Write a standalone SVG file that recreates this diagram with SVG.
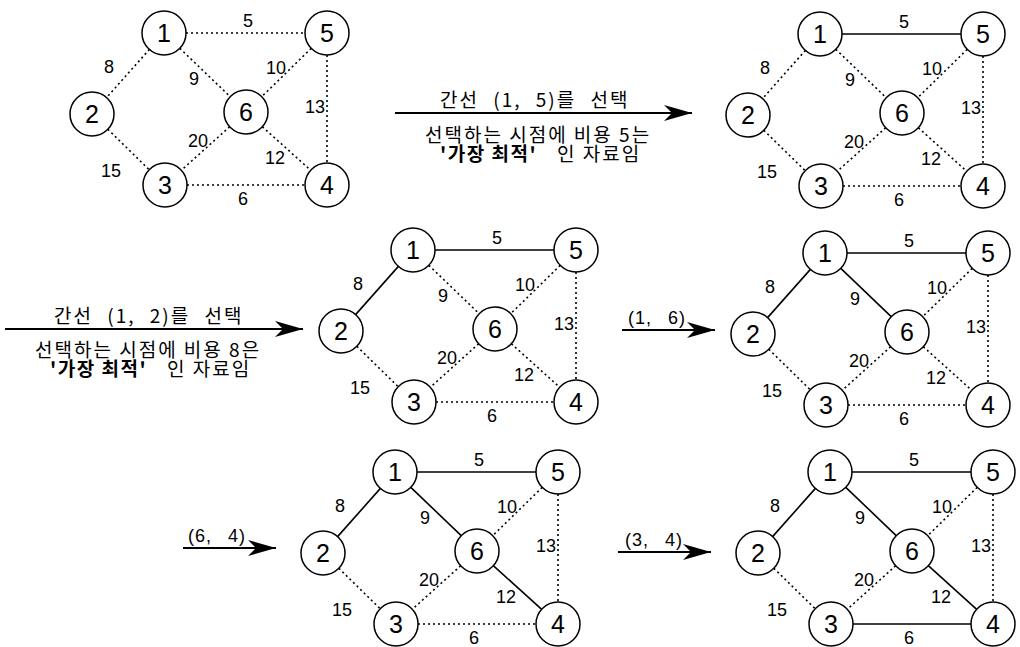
<svg xmlns="http://www.w3.org/2000/svg" width="1020" height="647" viewBox="0 0 1020 647">
<style>
.bg{fill:#fff}
.nc{fill:#fff;stroke:#000;stroke-width:1.5}
.nt{font-family:"Liberation Sans",Arial,sans-serif;font-size:25px;text-anchor:middle;fill:#000}
.el{font-family:"Liberation Sans",Arial,sans-serif;font-size:18px;text-anchor:middle;fill:#000}
.d{stroke:#000;stroke-width:1.6;stroke-dasharray:2 3;fill:none}
.s{stroke:#000;stroke-width:1.6;fill:none}
.ar{stroke:#000;stroke-width:1.8;fill:none}
.kt{font-family:"Noto Sans CJK KR",sans-serif;font-size:19px;fill:#000;letter-spacing:2px}
.k1{word-spacing:8px}
.kb{font-weight:bold;letter-spacing:1.5px}
.pt{font-family:"Liberation Sans",Arial,sans-serif;font-size:18px;fill:#000;word-spacing:10px;letter-spacing:1px}
</style>
<defs>
<marker id="ah" markerUnits="userSpaceOnUse" markerWidth="30" markerHeight="18" refX="28" refY="9" orient="auto">
<path d="M28,9 L0,1 L8,9 L0,17 Z" fill="#000"/>
</marker>
<g id="labels">
<text class="el" x="84" y="-6">5</text>
<text class="el" x="-55" y="40">8</text>
<text class="el" x="30" y="52">9</text>
<text class="el" x="112" y="41">10</text>
<text class="el" x="151" y="80">13</text>
<text class="el" x="34" y="114">20</text>
<text class="el" x="111" y="131">12</text>
<text class="el" x="-53" y="144">15</text>
<text class="el" x="79" y="172">6</text>
</g>
</defs>
<rect class="bg" width="1020" height="647"/>

<!-- Arrows with text -->
<g id="arrows">
<line class="ar" x1="395" y1="113" x2="692" y2="113" marker-end="url(#ah)"/>
<text class="kt k1" x="440" y="107">간선 (1, 5)를 선택</text>
<text class="kt" x="425" y="142">선택하는 시점에 비용 5는</text>
<text class="kt" x="440" y="161"><tspan class="kb">'가장 최적'</tspan><tspan x="557">인 자료임</tspan></text>

<line class="ar" x1="5" y1="329" x2="303" y2="329" marker-end="url(#ah)"/>
<text class="kt k1" x="54" y="323">간선 (1, 2)를 선택</text>
<text class="kt" x="35" y="357">선택하는 시점에 비용 8은</text>
<text class="kt" x="50" y="376"><tspan class="kb">'가장 최적'</tspan><tspan x="167">인 자료임</tspan></text>

<line class="ar" x1="622" y1="330" x2="715" y2="330" marker-end="url(#ah)"/>
<text class="pt" x="628" y="324">(1, 6)</text>
<line class="ar" x1="183" y1="548" x2="276" y2="548" marker-end="url(#ah)"/>
<text class="pt" x="188" y="542">(6, 4)</text>
<line class="ar" x1="618" y1="552" x2="711" y2="552" marker-end="url(#ah)"/>
<text class="pt" x="625" y="546">(3, 4)</text>
</g>

<!-- Graph 1 -->
<g id="graph1" transform="translate(164,33)">
<g id="g1-edges">
<line class="d" x1="22" y1="0" x2="141" y2="0"/>
<line class="d" x1="-14.6" y1="16.4" x2="-57.4" y2="64.6"/>
<line class="d" x1="15.8" y1="15.3" x2="66.2" y2="63.7"/>
<line class="d" x1="147.2" y1="15.4" x2="97.8" y2="63.6"/>
<line class="d" x1="163" y1="22" x2="163" y2="130"/>
<line class="d" x1="65.7" y1="93.7" x2="17.3" y2="137.3"/>
<line class="d" x1="98.3" y1="93.7" x2="146.7" y2="137.3"/>
<line class="d" x1="-56.2" y1="96.3" x2="-14.8" y2="136.7"/>
<line class="d" x1="23" y1="152" x2="141" y2="152"/>
</g>
<use href="#labels"/>
<g id="g1-n1"><circle class="nc" cx="0" cy="0" r="22"/><text class="nt" x="0" y="9">1</text></g>
<g id="g1-n2"><circle class="nc" cx="-72" cy="81" r="22"/><text class="nt" x="-72" y="90">2</text></g>
<g id="g1-n3"><circle class="nc" cx="1" cy="152" r="22"/><text class="nt" x="1" y="161">3</text></g>
<g id="g1-n4"><circle class="nc" cx="163" cy="152" r="22"/><text class="nt" x="163" y="161">4</text></g>
<g id="g1-n5"><circle class="nc" cx="163" cy="0" r="22"/><text class="nt" x="163" y="9">5</text></g>
<g id="g1-n6"><circle class="nc" cx="82" cy="79" r="22"/><text class="nt" x="82" y="88">6</text></g>
</g>

<!-- Graph 2 -->
<g id="graph2" transform="translate(820,34)">
<g id="g2-edges">
<line class="s" x1="22" y1="0" x2="141" y2="0"/>
<line class="d" x1="-14.6" y1="16.4" x2="-57.4" y2="64.6"/>
<line class="d" x1="15.8" y1="15.3" x2="66.2" y2="63.7"/>
<line class="d" x1="147.2" y1="15.4" x2="97.8" y2="63.6"/>
<line class="d" x1="163" y1="22" x2="163" y2="130"/>
<line class="d" x1="65.7" y1="93.7" x2="17.3" y2="137.3"/>
<line class="d" x1="98.3" y1="93.7" x2="146.7" y2="137.3"/>
<line class="d" x1="-56.2" y1="96.3" x2="-14.8" y2="136.7"/>
<line class="d" x1="23" y1="152" x2="141" y2="152"/>
</g>
<use href="#labels"/>
<g id="g2-n1"><circle class="nc" cx="0" cy="0" r="22"/><text class="nt" x="0" y="9">1</text></g>
<g id="g2-n2"><circle class="nc" cx="-72" cy="81" r="22"/><text class="nt" x="-72" y="90">2</text></g>
<g id="g2-n3"><circle class="nc" cx="1" cy="152" r="22"/><text class="nt" x="1" y="161">3</text></g>
<g id="g2-n4"><circle class="nc" cx="163" cy="152" r="22"/><text class="nt" x="163" y="161">4</text></g>
<g id="g2-n5"><circle class="nc" cx="163" cy="0" r="22"/><text class="nt" x="163" y="9">5</text></g>
<g id="g2-n6"><circle class="nc" cx="82" cy="79" r="22"/><text class="nt" x="82" y="88">6</text></g>
</g>

<!-- Graph 3 -->
<g id="graph3" transform="translate(413,250)">
<g id="g3-edges">
<line class="s" x1="22" y1="0" x2="141" y2="0"/>
<line class="s" x1="-14.6" y1="16.4" x2="-57.4" y2="64.6"/>
<line class="d" x1="15.8" y1="15.3" x2="66.2" y2="63.7"/>
<line class="d" x1="147.2" y1="15.4" x2="97.8" y2="63.6"/>
<line class="d" x1="163" y1="22" x2="163" y2="130"/>
<line class="d" x1="65.7" y1="93.7" x2="17.3" y2="137.3"/>
<line class="d" x1="98.3" y1="93.7" x2="146.7" y2="137.3"/>
<line class="d" x1="-56.2" y1="96.3" x2="-14.8" y2="136.7"/>
<line class="d" x1="23" y1="152" x2="141" y2="152"/>
</g>
<use href="#labels"/>
<g id="g3-n1"><circle class="nc" cx="0" cy="0" r="22"/><text class="nt" x="0" y="9">1</text></g>
<g id="g3-n2"><circle class="nc" cx="-72" cy="81" r="22"/><text class="nt" x="-72" y="90">2</text></g>
<g id="g3-n3"><circle class="nc" cx="1" cy="152" r="22"/><text class="nt" x="1" y="161">3</text></g>
<g id="g3-n4"><circle class="nc" cx="163" cy="152" r="22"/><text class="nt" x="163" y="161">4</text></g>
<g id="g3-n5"><circle class="nc" cx="163" cy="0" r="22"/><text class="nt" x="163" y="9">5</text></g>
<g id="g3-n6"><circle class="nc" cx="82" cy="79" r="22"/><text class="nt" x="82" y="88">6</text></g>
</g>

<!-- Graph 4 -->
<g id="graph4" transform="translate(825,253)">
<g id="g4-edges">
<line class="s" x1="22" y1="0" x2="141" y2="0"/>
<line class="s" x1="-14.6" y1="16.4" x2="-57.4" y2="64.6"/>
<line class="s" x1="15.8" y1="15.3" x2="66.2" y2="63.7"/>
<line class="d" x1="147.2" y1="15.4" x2="97.8" y2="63.6"/>
<line class="d" x1="163" y1="22" x2="163" y2="130"/>
<line class="d" x1="65.7" y1="93.7" x2="17.3" y2="137.3"/>
<line class="d" x1="98.3" y1="93.7" x2="146.7" y2="137.3"/>
<line class="d" x1="-56.2" y1="96.3" x2="-14.8" y2="136.7"/>
<line class="d" x1="23" y1="152" x2="141" y2="152"/>
</g>
<use href="#labels"/>
<g id="g4-n1"><circle class="nc" cx="0" cy="0" r="22"/><text class="nt" x="0" y="9">1</text></g>
<g id="g4-n2"><circle class="nc" cx="-72" cy="81" r="22"/><text class="nt" x="-72" y="90">2</text></g>
<g id="g4-n3"><circle class="nc" cx="1" cy="152" r="22"/><text class="nt" x="1" y="161">3</text></g>
<g id="g4-n4"><circle class="nc" cx="163" cy="152" r="22"/><text class="nt" x="163" y="161">4</text></g>
<g id="g4-n5"><circle class="nc" cx="163" cy="0" r="22"/><text class="nt" x="163" y="9">5</text></g>
<g id="g4-n6"><circle class="nc" cx="82" cy="79" r="22"/><text class="nt" x="82" y="88">6</text></g>
</g>

<!-- Graph 5 -->
<g id="graph5" transform="translate(395,472)">
<g id="g5-edges">
<line class="s" x1="22" y1="0" x2="141" y2="0"/>
<line class="s" x1="-14.6" y1="16.4" x2="-57.4" y2="64.6"/>
<line class="s" x1="15.8" y1="15.3" x2="66.2" y2="63.7"/>
<line class="d" x1="147.2" y1="15.4" x2="97.8" y2="63.6"/>
<line class="d" x1="163" y1="22" x2="163" y2="130"/>
<line class="d" x1="65.7" y1="93.7" x2="17.3" y2="137.3"/>
<line class="s" x1="98.3" y1="93.7" x2="146.7" y2="137.3"/>
<line class="d" x1="-56.2" y1="96.3" x2="-14.8" y2="136.7"/>
<line class="d" x1="23" y1="152" x2="141" y2="152"/>
</g>
<use href="#labels"/>
<g id="g5-n1"><circle class="nc" cx="0" cy="0" r="22"/><text class="nt" x="0" y="9">1</text></g>
<g id="g5-n2"><circle class="nc" cx="-72" cy="81" r="22"/><text class="nt" x="-72" y="90">2</text></g>
<g id="g5-n3"><circle class="nc" cx="1" cy="152" r="22"/><text class="nt" x="1" y="161">3</text></g>
<g id="g5-n4"><circle class="nc" cx="163" cy="152" r="22"/><text class="nt" x="163" y="161">4</text></g>
<g id="g5-n5"><circle class="nc" cx="163" cy="0" r="22"/><text class="nt" x="163" y="9">5</text></g>
<g id="g5-n6"><circle class="nc" cx="82" cy="79" r="22"/><text class="nt" x="82" y="88">6</text></g>
</g>

<!-- Graph 6 -->
<g id="graph6" transform="translate(830,472)">
<g id="g6-edges">
<line class="s" x1="22" y1="0" x2="141" y2="0"/>
<line class="s" x1="-14.6" y1="16.4" x2="-57.4" y2="64.6"/>
<line class="s" x1="15.8" y1="15.3" x2="66.2" y2="63.7"/>
<line class="d" x1="147.2" y1="15.4" x2="97.8" y2="63.6"/>
<line class="d" x1="163" y1="22" x2="163" y2="130"/>
<line class="d" x1="65.7" y1="93.7" x2="17.3" y2="137.3"/>
<line class="s" x1="98.3" y1="93.7" x2="146.7" y2="137.3"/>
<line class="d" x1="-56.2" y1="96.3" x2="-14.8" y2="136.7"/>
<line class="s" x1="23" y1="152" x2="141" y2="152"/>
</g>
<use href="#labels"/>
<g id="g6-n1"><circle class="nc" cx="0" cy="0" r="22"/><text class="nt" x="0" y="9">1</text></g>
<g id="g6-n2"><circle class="nc" cx="-72" cy="81" r="22"/><text class="nt" x="-72" y="90">2</text></g>
<g id="g6-n3"><circle class="nc" cx="1" cy="152" r="22"/><text class="nt" x="1" y="161">3</text></g>
<g id="g6-n4"><circle class="nc" cx="163" cy="152" r="22"/><text class="nt" x="163" y="161">4</text></g>
<g id="g6-n5"><circle class="nc" cx="163" cy="0" r="22"/><text class="nt" x="163" y="9">5</text></g>
<g id="g6-n6"><circle class="nc" cx="82" cy="79" r="22"/><text class="nt" x="82" y="88">6</text></g>
</g>
</svg>
